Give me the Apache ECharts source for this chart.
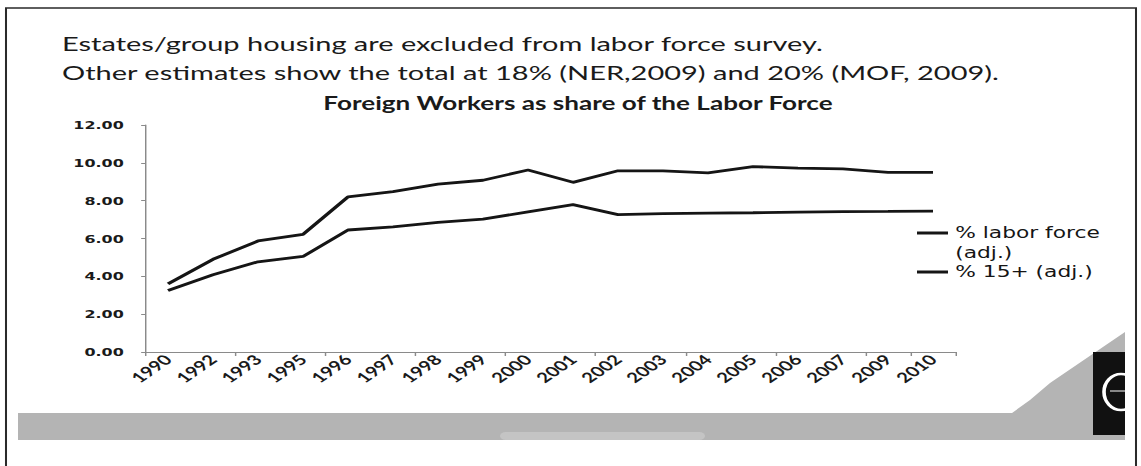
<!DOCTYPE html>
<html>
<head>
<meta charset="utf-8">
<title>Foreign Workers as share of the Labor Force</title>
<script src="https://cdn.jsdelivr.net/npm/echarts@6/dist/echarts.min.js"></script>
<style>
  html, body { margin: 0; padding: 0; background: #fff; overflow: hidden; }
  #chart { height: 466px; transform-origin: 0 0; }
</style>
</head>
<body>
<div id="chart"></div>
<script>
// Survey years shown on the category axis (no 1991, 1994 or 2008 figures)
const years = ['1990', '1992', '1993', '1995', '1996', '1997', '1998', '1999', '2000',
               '2001', '2002', '2003', '2004', '2005', '2006', '2007', '2009', '2010'];

// Foreign workers as % of the labour force (adjusted)
const laborForceShare = [3.60, 4.90, 5.87, 6.22, 8.20, 8.48, 8.87, 9.08, 9.62,
                         8.97, 9.58, 9.57, 9.47, 9.80, 9.72, 9.68, 9.50, 9.50];

// Foreign workers as % of the population aged 15+ (adjusted)
const age15Share = [3.25, 4.08, 4.77, 5.05, 6.45, 6.61, 6.85, 7.02, 7.41,
                    7.79, 7.26, 7.32, 7.34, 7.36, 7.39, 7.42, 7.43, 7.45];

const seriesNames = ['% labor force (adj.)', '% 15+ (adj.)'];

const notes = [
  'Estates/group housing are excluded from labor force survey.',
  'Other estimates show the total at 18% (NER,2009) and 20% (MOF, 2009).'
];
const chartTitle = 'Foreign Workers as share of the Labor Force';

// The slide is laid out in a narrower box and widened horizontally,
// so every x given in page pixels is divided by SX.
const SX = 1.45;
const PAGE_W = 1141;
const el = document.getElementById('chart');
el.style.width = (PAGE_W / SX) + 'px';
el.style.transform = 'scaleX(' + SX + ')';
const px = x => x / SX;

const chart = echarts.init(el, null, { renderer: 'svg' });

const ink = '#151515';
const axisGrey = '#8a8a8a';

chart.setOption({
  animation: false,
  backgroundColor: '#ffffff',
  grid: {
    left: px(145.5),
    width: px(810),
    top: 125,
    bottom: 114,
    containLabel: false
  },
  xAxis: {
    type: 'category',
    data: years,
    boundaryGap: true,
    axisLine: { lineStyle: { color: axisGrey, width: 1 } },
    axisTick: { show: true, interval: 1, length: 4, lineStyle: { color: axisGrey } },
    axisLabel: {
      interval: 0,
      rotate: 45,
      margin: 5,
      fontFamily: 'Lato',
      fontWeight: 'bold',
      fontSize: 14,
      color: '#1a1a1a'
    },
    splitLine: { show: false }
  },
  yAxis: {
    type: 'value',
    min: 0,
    max: 12,
    interval: 2,
    axisLine: { show: true, lineStyle: { color: axisGrey, width: 1 } },
    axisTick: { show: true, length: 3, lineStyle: { color: axisGrey } },
    axisLabel: {
      formatter: v => v.toFixed(2),
      fontFamily: 'DejaVu Sans',
      fontWeight: 'bold',
      fontSize: 11,
      margin: 15,
      color: '#1a1a1a'
    },
    splitLine: { show: false }
  },
  legend: [
    {
      data: [seriesNames[0]],
      orient: 'vertical',
      left: px(917),
      top: 203,
      padding: 0,
      icon: 'rect',
      itemWidth: px(31),
      itemHeight: 3,
      // blank first line keeps the key line level with the first text line
      formatter: () => ' \n% labor force\n(adj.)',
      textStyle: { fontFamily: 'DejaVu Sans', fontSize: 15, lineHeight: 20, color: ink }
    },
    {
      data: [seriesNames[1]],
      orient: 'vertical',
      left: px(917),
      top: 262,
      padding: 0,
      icon: 'rect',
      itemWidth: px(31),
      itemHeight: 3,
      textStyle: { fontFamily: 'DejaVu Sans', fontSize: 15, lineHeight: 20, color: ink }
    }
  ],
  series: [
    {
      name: seriesNames[0],
      type: 'line',
      data: laborForceShare,
      symbol: 'none',
      lineStyle: { color: ink, width: 2.8 },
      itemStyle: { color: ink }
    },
    {
      name: seriesNames[1],
      type: 'line',
      data: age15Share,
      symbol: 'none',
      lineStyle: { color: ink, width: 2.8 },
      itemStyle: { color: ink }
    }
  ],
  graphic: [
    // grey ribbon along the foot of the slide, rising into a fin on the right
    {
      type: 'polygon',
      z: -10,
      shape: {
        points: [[px(18), 413], [px(1012), 413], [px(1030), 400], [px(1050), 383],
                 [px(1125), 332], [px(1125), 440], [px(18), 440]]
      },
      style: { fill: '#b4b4b4' }
    },
    {
      type: 'rect',
      z: -9,
      shape: { x: px(500), y: 432, width: px(205), height: 8, r: 5 },
      style: { fill: '#c4c4c4' }
    },
    // logo block
    {
      type: 'rect',
      z: -8,
      shape: { x: px(1093), y: 352, width: px(32), height: 83 },
      style: { fill: '#111' }
    },
    {
      type: 'ellipse',
      z: -7,
      shape: { cx: px(1121), cy: 392, rx: px(17), ry: 18 },
      style: { fill: 'none', stroke: '#fff', lineWidth: 2.5 }
    },
    {
      type: 'line',
      z: -7,
      shape: { x1: px(1110), y1: 391, x2: px(1125), y2: 391 },
      style: { stroke: '#fff', lineWidth: 1 }
    },
    // slide frame
    {
      type: 'rect',
      z: -5,
      shape: { x: px(6), y: 8, width: px(1130), height: 520 },
      style: { fill: 'none', stroke: '#2a2a2a', lineWidth: 1.4 }
    },
    // notes above the chart
    {
      type: 'text',
      x: px(62),
      y: 43,
      style: {
        text: notes[0],
        font: '20px Lato',
        fill: '#1a1a1a',
        verticalAlign: 'middle'
      }
    },
    {
      type: 'text',
      x: px(62),
      y: 72,
      style: {
        text: notes[1],
        font: '20px Lato',
        fill: '#1a1a1a',
        verticalAlign: 'middle'
      }
    },
    {
      type: 'text',
      x: px(578),
      y: 103,
      style: {
        text: chartTitle,
        font: 'bold 18px Lato',
        fill: '#1a1a1a',
        align: 'center',
        verticalAlign: 'middle'
      }
    }
  ]
});
</script>
</body>
</html>
